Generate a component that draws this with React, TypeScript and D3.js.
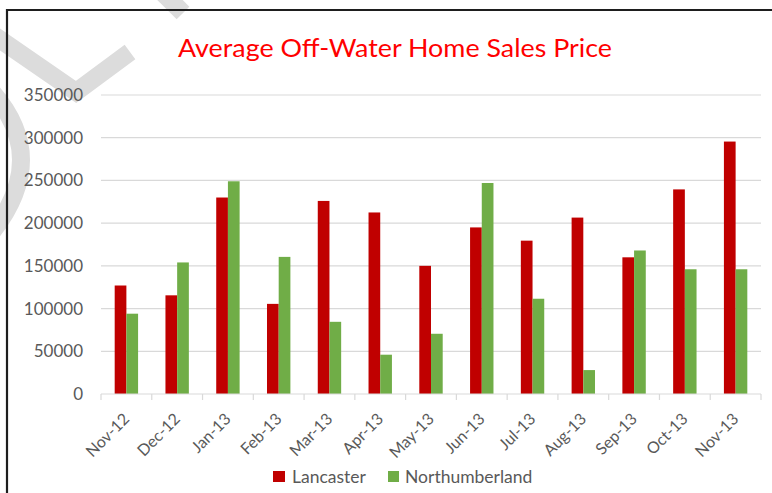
import React from "react";
import * as d3 from "d3";

const months = ["Nov-12","Dec-12","Jan-13","Feb-13","Mar-13","Apr-13","May-13","Jun-13","Jul-13","Aug-13","Sep-13","Oct-13","Nov-13"];
const seriesNames = ["Lancaster", "Northumberland"];
const lancaster = [127000,115500,230000,105500,226000,212500,150000,195000,179500,206500,160000,239500,295500];
const northumberland = [94000,154000,249000,160500,84500,46000,70500,247000,111500,28000,168000,146000,146000];
const yTicks = [0,50000,100000,150000,200000,250000,300000,350000];
const colors = ["#C00000", "#70AD47"];

const W = 772, H = 493;
const FONT = "Lato, 'Open Sans', sans-serif";

export default function App() {
  const x = d3.scaleBand<string>().domain(months).range([101, 761]).paddingInner(0).paddingOuter(0);
  const xs = d3.scaleBand<string>().domain(seriesNames).range([0, x.step()]).paddingInner(0).paddingOuter(1.17);
  const y = d3.scaleLinear().domain([0, 350000]).range([394, 95]);
  const data = [lancaster, northumberland];
  const boundaries = months.map((m) => x(m) as number).concat([761]);

  return (
    <svg width={W} height={H} style={{ position: "absolute", left: 0, top: 0, background: "#fff" }}>
      <rect x={0} y={0} width={W} height={H} fill="#fff" />
      {/* watermark */}
      <g stroke="#dcdcdc" strokeWidth={18} fill="none" strokeLinejoin="miter">
        <line x1={148} y1={-22} x2={183} y2={13} />
        <polyline points="-8,34 76,92 130,52" />
        <path d="M -8,92 Q 50,158 -8,232" />
      </g>
      {/* frame */}
      <path d={`M 7 ${H + 2} V 10 H ${W + 2}`} stroke="#1e1e1e" strokeWidth={2.2} fill="none" />
      {/* title */}
      <text x={395} y={57} textAnchor="middle" fill="#FF0000" fontFamily={FONT} fontSize={25} textLength={434} lengthAdjust="spacingAndGlyphs">
        Average Off-Water Home Sales Price
      </text>
      {/* gridlines */}
      {yTicks.filter((t) => t > 0).map((t) => (
        <line key={t} x1={101} x2={761} y1={y(t)} y2={y(t)} stroke="#d9d9d9" strokeWidth={1.2} />
      ))}
      {/* y labels */}
      {yTicks.map((t) => (
        <text key={t} x={83} y={y(t) + 6} textAnchor="end" fill="#595959" fontFamily={FONT} fontSize={17}>
          {t}
        </text>
      ))}
      {/* bars */}
      {data.map((vals, si) => (
        <g key={si} fill={colors[si]}>
          {vals.map((v, i) => (
            <rect key={i} x={(x(months[i]) as number) + (xs(seriesNames[si]) as number)} y={y(v)} width={xs.bandwidth()} height={y(0) - y(v)} />
          ))}
        </g>
      ))}
      {/* x axis */}
      <line x1={101} x2={761} y1={394} y2={394} stroke="#d9d9d9" strokeWidth={1.2} />
      {boundaries.map((b, i) => (
        <line key={i} x1={b} x2={b} y1={394} y2={400} stroke="#d9d9d9" strokeWidth={1.2} />
      ))}
      {months.map((m) => {
        const cx = (x(m) as number) + x.bandwidth() / 2 + 4;
        const cy = 420;
        return (
          <text key={m} x={cx} y={cy} textAnchor="end" transform={`rotate(-45 ${cx} ${cy})`} fill="#595959" fontFamily={FONT} fontSize={16}>
            {m}
          </text>
        );
      })}
      {/* legend */}
      <rect x={273} y={471} width={12} height={11} fill={colors[0]} />
      <text x={292} y={483} fill="#595959" fontFamily={FONT} fontSize={17.5}>Lancaster</text>
      <rect x={388} y={471} width={11} height={11} fill={colors[1]} />
      <text x={405} y={483} fill="#595959" fontFamily={FONT} fontSize={17.5}>Northumberland</text>
    </svg>
  );
}
